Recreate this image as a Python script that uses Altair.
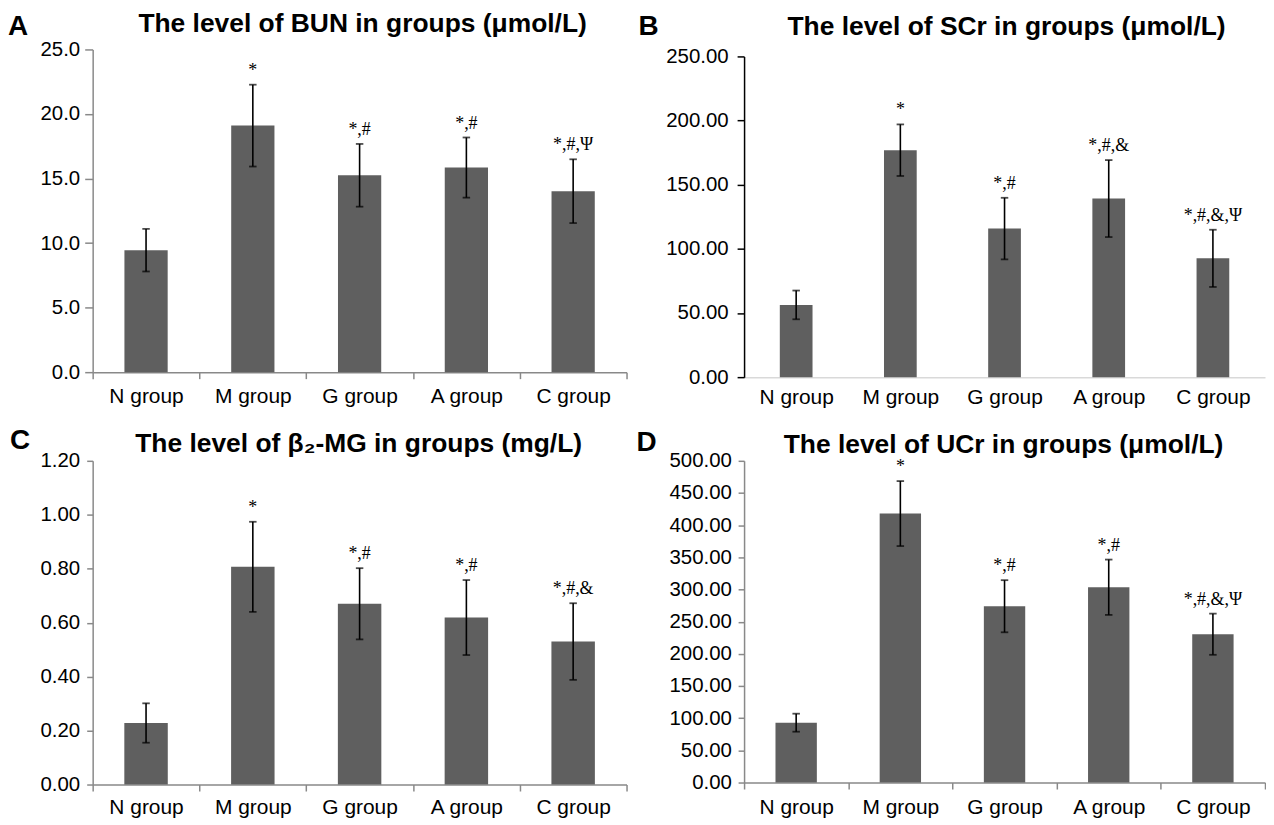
import altair as alt
import pandas as pd

SANS = "Liberation Sans, Arial, Helvetica, sans-serif"
SERIF = "Liberation Serif, Times New Roman, serif"
GRAY = "#898989"
BAR = "#5f5f5f"

groups = ["N group", "M group", "G group", "A group", "C group"]

# Panel A: BUN
bun_mean = [9.45, 19.10, 15.25, 15.85, 14.02]
bun_err = [1.65, 3.17, 2.43, 2.33, 2.47]
bun_sig = ["", "*", "*,#", "*,#", "*,#,Ψ"]
bun_ticks = [0, 5, 10, 15, 20, 25]

# Panel B: SCr
scr_mean = [56.3, 176.9, 115.8, 139.2, 92.6]
scr_err = [11.2, 20.1, 24.0, 30.0, 22.3]
scr_sig = ["", "*", "*,#", "*,#,&", "*,#,&,Ψ"]
scr_ticks = [0, 50, 100, 150, 200, 250]

# Panel C: beta2-MG
mg_mean = [0.228, 0.807, 0.670, 0.619, 0.530]
mg_err = [0.073, 0.167, 0.132, 0.139, 0.142]
mg_sig = ["", "*", "*,#", "*,#", "*,#,&"]
mg_ticks = [0, 0.2, 0.4, 0.6, 0.8, 1.0, 1.2]

# Panel D: UCr
ucr_mean = [93.0, 418.0, 274.0, 303.5, 230.5]
ucr_err = [14.0, 50.5, 40.5, 43.0, 32.0]
ucr_sig = ["", "*", "*,#", "*,#", "*,#,&,Ψ"]
ucr_ticks = [0, 50, 100, 150, 200, 250, 300, 350, 400, 450, 500]


def panel(letter, title, mean, err, sig, ticks, fmt, width, height, bar_frac,
          y_color, x_color, x_ticks, ytick, ypad, xpad, range_top,
          letter_x, letter_y, title_y, title_dx=0, cap_w=7.5):
    lo = [m - e for m, e in zip(mean, err)]
    hi = [m + e for m, e in zip(mean, err)]
    df = pd.DataFrame({"group": groups, "mean": mean, "lo": lo, "hi": hi, "sig": sig})
    yscale = alt.Scale(domain=[ticks[0], ticks[-1]], range=[height, range_top], nice=False, zero=True)
    x_axis = alt.Axis(labelAngle=0, tickBand="extent", ticks=x_ticks, tickSize=6.5,
                      tickColor=x_color, tickWidth=1.5, domainColor=x_color, domainWidth=1.5,
                      labelFontSize=21, labelPadding=xpad, labelBaseline="alphabetic",
                      labelFont=SANS, labelColor="black")
    y_axis = alt.Axis(values=ticks, format=fmt, grid=False, domainColor=y_color, domainWidth=1.5,
                      tickColor=y_color, tickWidth=1.5, tickSize=ytick, labelPadding=ypad,
                      labelFontSize=20.5, labelFont=SANS, labelColor="black")
    xs = alt.Scale(paddingInner=0, paddingOuter=0)

    def X():
        return alt.X("group:N", sort=groups, title=None, scale=xs, axis=x_axis)

    def Y(f):
        return alt.Y(f, scale=yscale, axis=y_axis, title=None)

    base = alt.Chart(df)
    bars = base.mark_bar(color=BAR, width=alt.RelativeBandSize(bar_frac)).encode(x=X(), y=Y("mean:Q"))
    rule = base.mark_rule(color="black", strokeWidth=1.6).encode(x=X(), y=Y("lo:Q"), y2="hi:Q")
    cap_hi = base.mark_tick(color="black", thickness=1.8, size=cap_w, orient="horizontal").encode(x=X(), y=Y("hi:Q"))
    cap_lo = base.mark_tick(color="black", thickness=1.8, size=cap_w, orient="horizontal").encode(x=X(), y=Y("lo:Q"))
    txt = base.mark_text(font=SERIF, fontSize=18, baseline="alphabetic", dy=-9, color="black").encode(
        x=X(), y=Y("hi:Q"), text="sig:N")
    lab = alt.Chart(pd.DataFrame({"t": [letter]})).mark_text(
        align="left", baseline="alphabetic", font=SANS, fontSize=28, fontWeight="bold",
        color="black", x=letter_x, y=letter_y).encode(text="t:N")
    ttl = alt.Chart(pd.DataFrame({"t": [title]})).mark_text(
        align="center", baseline="alphabetic", font=SANS, fontSize=26.5, fontWeight="bold",
        color="black", x=width / 2 + title_dx, y=title_y).encode(text="t:N")
    return alt.layer(bars, rule, cap_hi, cap_lo, txt, lab, ttl).properties(width=width, height=height)


pA = panel("A", "The level of BUN in groups (μmol/L)", bun_mean, bun_err, bun_sig, bun_ticks, ".1f",
           536, 324, 0.405, GRAY, GRAY, True, 8, 5, 24, 0, -85, -14.7, -17.3, 3)
pB = panel("B", "The level of SCr in groups (μmol/L)", scr_mean, scr_err, scr_sig, scr_ticks, ".2f",
           523, 329, 0.314, "black", "#d9d9d9", False, 7, 9, 26.6, 7, -106, -14.7, -15, 2)
pC = panel("C", "The level of β₂-MG in groups (mg/L)", mg_mean, mg_err, mg_sig, mg_ticks, ".2f",
           536, 325, 0.407, GRAY, GRAY, True, 6, 7, 23, 0, -83, -12, -9.3, -1)
pD = panel("D", "The level of UCr in groups (μmol/L)", ucr_mean, ucr_err, ucr_sig, ucr_ticks, ".2f",
           523, 323, 0.397, GRAY, GRAY, True, 6, 6.7, 24.7, 0, -108, -10, -8.3, -1)

chart = alt.concat(
    pA, pB, pC, pD, columns=2, spacing={"row": 84, "column": 118}, bounds="flush"
).properties(
    padding={"left": 0, "top": 1, "right": 0, "bottom": 0}
).configure_view(stroke=None)

chart.save("out.html", embed_options={"renderer": "svg", "actions": False})
